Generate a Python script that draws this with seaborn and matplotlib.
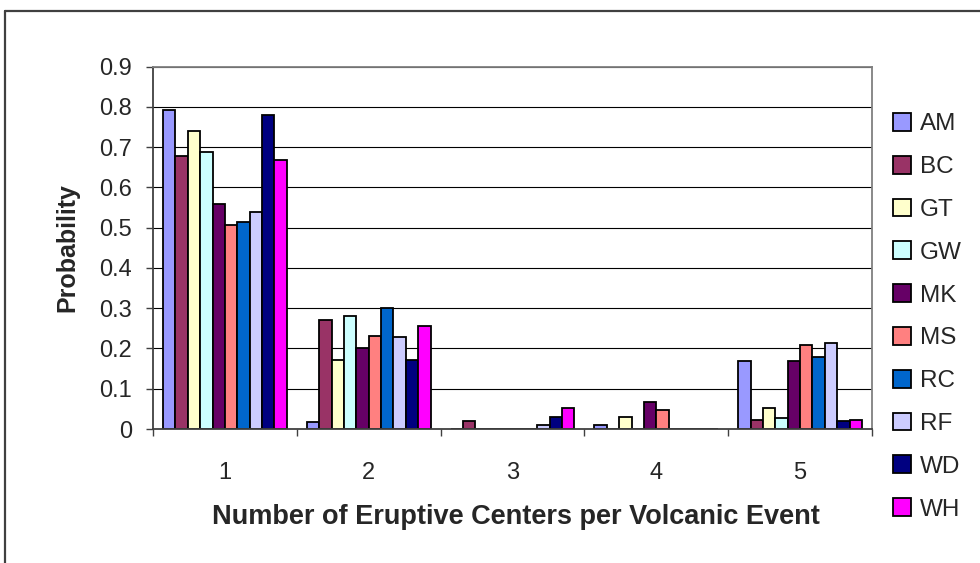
import matplotlib
matplotlib.use("Agg")
import matplotlib.pyplot as plt
import seaborn as sns
import pandas as pd
from matplotlib.lines import Line2D

categories = ["1", "2", "3", "4", "5"]
series_names = ["AM", "BC", "GT", "GW", "MK", "MS", "RC", "RF", "WD", "WH"]
AM = [0.793, 0.017, 0.0, 0.009, 0.170]
BC = [0.678, 0.272, 0.019, 0.0, 0.023]
GT = [0.741, 0.171, 0.0, 0.029, 0.051]
GW = [0.688, 0.281, 0.0, 0.0, 0.027]
MK = [0.559, 0.200, 0.0, 0.066, 0.170]
MS = [0.506, 0.232, 0.0, 0.047, 0.208]
RC = [0.515, 0.300, 0.0, 0.0, 0.180]
RF = [0.539, 0.228, 0.009, 0.0, 0.213]
WD = [0.779, 0.172, 0.029, 0.0, 0.019]
WH = [0.669, 0.257, 0.052, 0.0, 0.023]
series_values = [AM, BC, GT, GW, MK, MS, RC, RF, WD, WH]
colors = ["#9999FF", "#993366", "#FFFFCC", "#CCFFFF", "#660066",
          "#FF8080", "#0066CC", "#CCCCFF", "#000080", "#FF00FF"]
y_ticks = [0, 0.1, 0.2, 0.3, 0.4, 0.5, 0.6, 0.7, 0.8, 0.9]
y_tick_labels = ["0", "0.1", "0.2", "0.3", "0.4", "0.5", "0.6", "0.7", "0.8", "0.9"]

rows = []
for name, vals in zip(series_names, series_values):
    for c, v in zip(categories, vals):
        rows.append({"Events": c, "Series": name, "Probability": v})
df = pd.DataFrame(rows)

sns.set_theme(style="white")
plt.rcParams["font.family"] = ["Liberation Sans", "DejaVu Sans"]

fig = plt.figure(figsize=(9.8, 5.63), dpi=100)
ax = fig.add_axes([153 / 980, 1 - 429 / 563, (872 - 153) / 980, (429 - 66.7) / 563])

sns.barplot(data=df, x="Events", y="Probability", hue="Series",
            order=categories, hue_order=series_names,
            palette=colors, width=0.862, edgecolor="black", linewidth=1.3,
            saturation=1, ax=ax, legend=True)

ax.set_xlim(-0.5, 4.5)
ax.set_ylim(0, 0.9)
ax.set_yticks(y_ticks)
ax.set_yticklabels(y_tick_labels)
ax.yaxis.grid(True, color="black", linewidth=0.8)
ax.set_axisbelow(True)

ax.set_xticks(range(len(categories)))
ax.set_xticklabels(categories)
ax.set_xticks([i - 0.5 for i in range(len(categories) + 1)], minor=True)
ax.tick_params(axis="x", which="major", length=0, pad=24, labelsize=17)
ax.tick_params(axis="x", which="minor", length=5, width=1, color="#404040", direction="out", bottom=True)
ax.tick_params(axis="y", which="major", length=5, width=1, color="#404040", direction="out", left=True, pad=10, labelsize=17)

for s in ["left", "bottom"]:
    ax.spines[s].set_color("#404040")
    ax.spines[s].set_linewidth(1.3)
for s in ["top", "right"]:
    ax.spines[s].set_color("#808080")
    ax.spines[s].set_linewidth(1.3)

ax.set_xlabel("Number of Eruptive Centers per Volcanic Event", fontsize=19.5, fontweight="bold")
ax.set_ylabel("Probability", fontsize=18, fontweight="bold")
ax.xaxis.set_label_coords((516 - 153) / (872 - 153), -(517 - 429) / (429 - 66.7))
ax.yaxis.set_label_coords(-(153 - 67) / (872 - 153), (429 - 248) / (429 - 66.7))
ax.xaxis.label.set_va("center")
ax.yaxis.label.set_va("center")

handles, labels = ax.get_legend_handles_labels()
ax.legend_.remove()
fig.legend(handles, labels, loc="upper left", bbox_to_anchor=(893 / 980, 1 - 113 / 563),
           frameon=False, fontsize=17.5, handlelength=0.75, handleheight=0.75,
           handletextpad=0.35, labelspacing=0.84, borderaxespad=0, borderpad=0)

# chart-area border (top and left edges visible)
fig.add_artist(Line2D([5 / 980, 1.0], [1 - 11 / 563, 1 - 11 / 563], transform=fig.transFigure,
                      color="#404040", linewidth=1.6))
fig.add_artist(Line2D([5 / 980, 5 / 980], [0.0, 1 - 11 / 563], transform=fig.transFigure,
                      color="#404040", linewidth=1.6))

fig.savefig("out.png", dpi=100)
